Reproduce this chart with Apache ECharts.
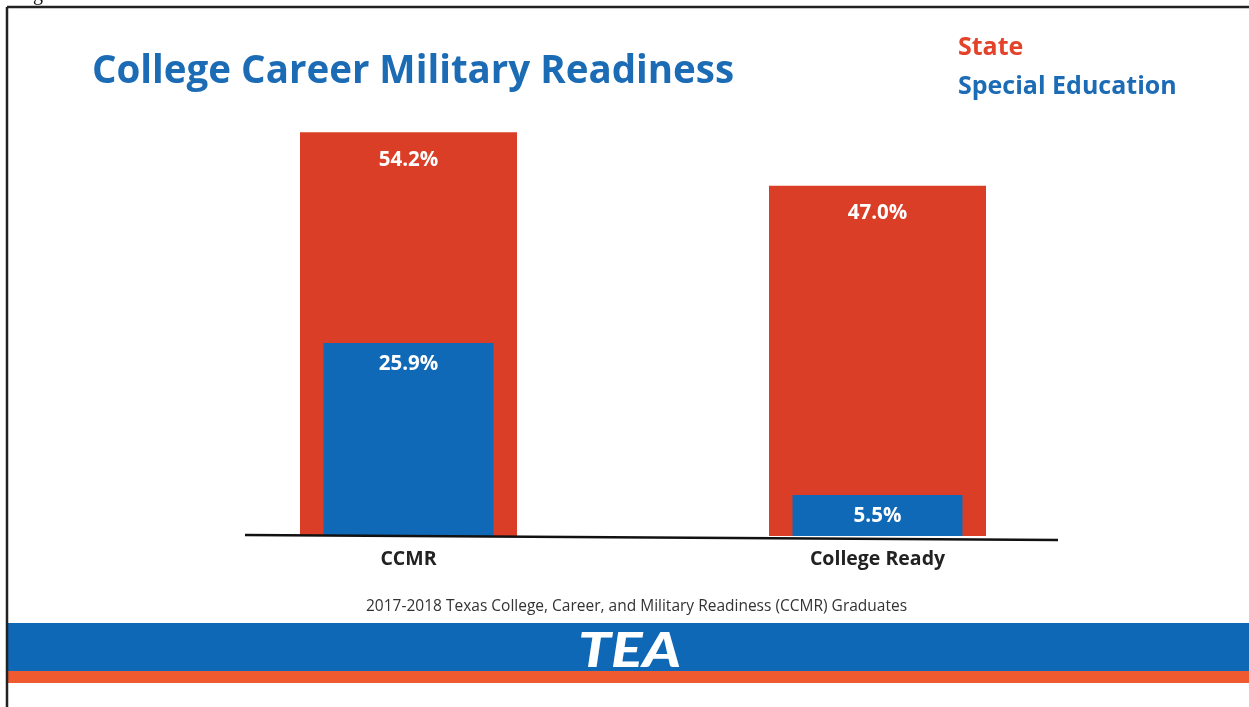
<!DOCTYPE html>
<html>
<head>
<meta charset="utf-8">
<script src="https://cdn.jsdelivr.net/npm/echarts@6/dist/echarts.min.js"></script>
<style>
  html, body { margin: 0; padding: 0; background: #fff; }
  #chart { width: 1249px; height: 707px; }
</style>
</head>
<body>
<div id="chart"></div>
<script>
// Readiness categories and rates (percent of graduates)
const categories = ['CCMR', 'College Ready'];
const stateRates = [54.2, 47.0];
const specialEdRates = [25.9, 5.5];
const seriesNames = ['State', 'Special Education'];

const RED = '#DA3E26';
const BLUE = '#0F69B6';
const FONT = '"Open Sans", Lato, sans-serif';

const chart = echarts.init(document.getElementById('chart'), null, { renderer: 'canvas' });

const pctLabel = (distance) => ({
  show: true,
  position: 'insideTop',
  distance: distance,
  color: '#fff',
  fontFamily: FONT,
  fontWeight: 'bold',
  fontSize: 20.5,
  formatter: p => p.value.toFixed(1) + '%'
});

chart.setOption({
  animation: false,
  backgroundColor: '#fff',
  textStyle: { fontFamily: FONT },
  title: {
    text: 'College Career Military Readiness',
    left: 87,
    top: 48,
    textStyle: { color: '#1C6BB5', fontSize: 38.5, fontWeight: 'bold', fontFamily: FONT }
  },
  legend: {
    orient: 'vertical',
    left: 953,
    top: 30,
    itemGap: 14,
    icon: 'none',
    itemWidth: 0,
    selectedMode: false,
    data: [
      { name: seriesNames[0], textStyle: { color: '#E2432A' } },
      { name: seriesNames[1], textStyle: { color: '#1C6BB5' } }
    ],
    textStyle: { fontSize: 25, fontWeight: 'bold', fontFamily: FONT, padding: [0, 0, 0, -5] }
  },
  grid: { left: 174, right: 137, top: 89, bottom: 171 },
  xAxis: [
    {
      type: 'category',
      data: categories,
      axisLine: { show: false },
      axisTick: { show: false },
      axisLabel: { color: '#222', fontSize: 19.5, fontWeight: 'bold', fontFamily: FONT, margin: 13 }
    },
    {
      type: 'category',
      data: categories,
      show: false
    }
  ],
  yAxis: {
    type: 'value',
    min: 0,
    max: 60,
    show: false,
    splitLine: { show: false }
  },
  series: [
    {
      name: seriesNames[0],
      type: 'bar',
      xAxisIndex: 0,
      barWidth: 217,
      data: stateRates,
      itemStyle: { color: RED },
      label: pctLabel(17),
      z: 2
    },
    {
      name: seriesNames[1],
      type: 'bar',
      xAxisIndex: 1,
      barWidth: 170,
      data: specialEdRates,
      itemStyle: { color: BLUE },
      label: pctLabel(11),
      z: 3
    }
  ],
  graphic: [
    // slide frame
    { type: 'line', shape: { x1: 7, y1: 7, x2: 1249, y2: 7 }, style: { stroke: '#222', lineWidth: 2.5 }, z: 10 },
    { type: 'line', shape: { x1: 7, y1: 7, x2: 7, y2: 707 }, style: { stroke: '#222', lineWidth: 2.5 }, z: 10 },
    // descender of caption text above the frame
    { type: 'text', left: 33, top: -15, style: { text: 'g', font: '20px "Liberation Serif", serif', fill: '#111' } },
    // baseline under the bars
    { type: 'line', shape: { x1: 245, y1: 535, x2: 1058, y2: 540 }, style: { stroke: '#111', lineWidth: 2.5 }, z: 20 },
    // source note
    {
      type: 'text', left: 366, top: 599,
      style: { text: '2017-2018 Texas College, Career, and Military Readiness (CCMR) Graduates', font: '15.5px "Open Sans", sans-serif', fill: '#333' }
    },
    // footer bands
    { type: 'rect', shape: { x: 8, y: 623, width: 1241, height: 48 }, style: { fill: '#0F68B5' } },
    { type: 'rect', shape: { x: 8, y: 671, width: 1241, height: 12 }, style: { fill: '#F05A30' } },
    {
      type: 'text', x: 578, y: 628, scaleX: 1.25,
      style: { text: 'TEA', font: 'italic 900 47px Lato, "DejaVu Sans", sans-serif', fill: '#fff' }, z: 12
    }
  ]
});
</script>
</body>
</html>
